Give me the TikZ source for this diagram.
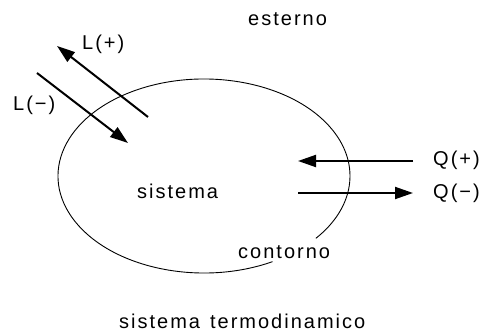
\documentclass[tikz,border=0pt]{standalone}
\usepackage{fontspec}
\usepackage{tikz}
\usetikzlibrary{arrows.meta, calc}
\newfontfamily\cadfont[LetterSpace=10]{Liberation Sans}
\tikzset{
    caption/.style={
        font=\cadfont\fontsize{20}{22}\selectfont,
        inner sep=0pt,
        anchor=west
    },
    flow/.style={-{Triangle[length=18pt, width=12pt]}, line width=2pt, draw=black},
    boundary/.style={line width=0.9pt, draw=black}
}

\begin{document}
\begin{tikzpicture}[x=1pt, y=-1pt]
    \useasboundingbox (0,0) rectangle (485,331);

    % thermodynamic system boundary, open where the label sits
    \coordinate (centre) at (204,176);
    \draw[boundary] ($(centre)+(62:146 and 97)$) arc[start angle=62, end angle=400, x radius=146, y radius=97];

    % work arrows
    \coordinate (lplus tail) at (148,117);
    \coordinate (lplus tip) at (57,46);
    \coordinate (lminus tail) at (37,73);
    \coordinate (lminus tip) at (128,143);
    \draw[flow] (lplus tail) -- (lplus tip);
    \draw[flow] (lminus tail) -- (lminus tip);

    % heat arrows
    \coordinate (qplus tail) at (413,161);
    \coordinate (qplus tip) at (298,161);
    \coordinate (qminus tail) at (298,193);
    \coordinate (qminus tip) at (413,193);
    \draw[flow] (qplus tail) -- (qplus tip);
    \draw[flow] (qminus tail) -- (qminus tip);

    \node[caption] (esterno) at (248,19) {esterno};
    \node[caption] (lplus) at (82,44) {L(+)};
    \node[caption] (lminus) at (13,105) {L(−)};
    \node[caption] (qplus) at (433,160) {Q(+)};
    \node[caption] (qminus) at (433,193) {Q(−)};
    \node[caption] (sistema) at (137,191) {sistema};
    \node[caption] (contorno) at (238,252) {contorno};
    \node[caption] (title) at (119,321) {sistema\hspace{0.5em}termodinamico};
\end{tikzpicture}
\end{document}
